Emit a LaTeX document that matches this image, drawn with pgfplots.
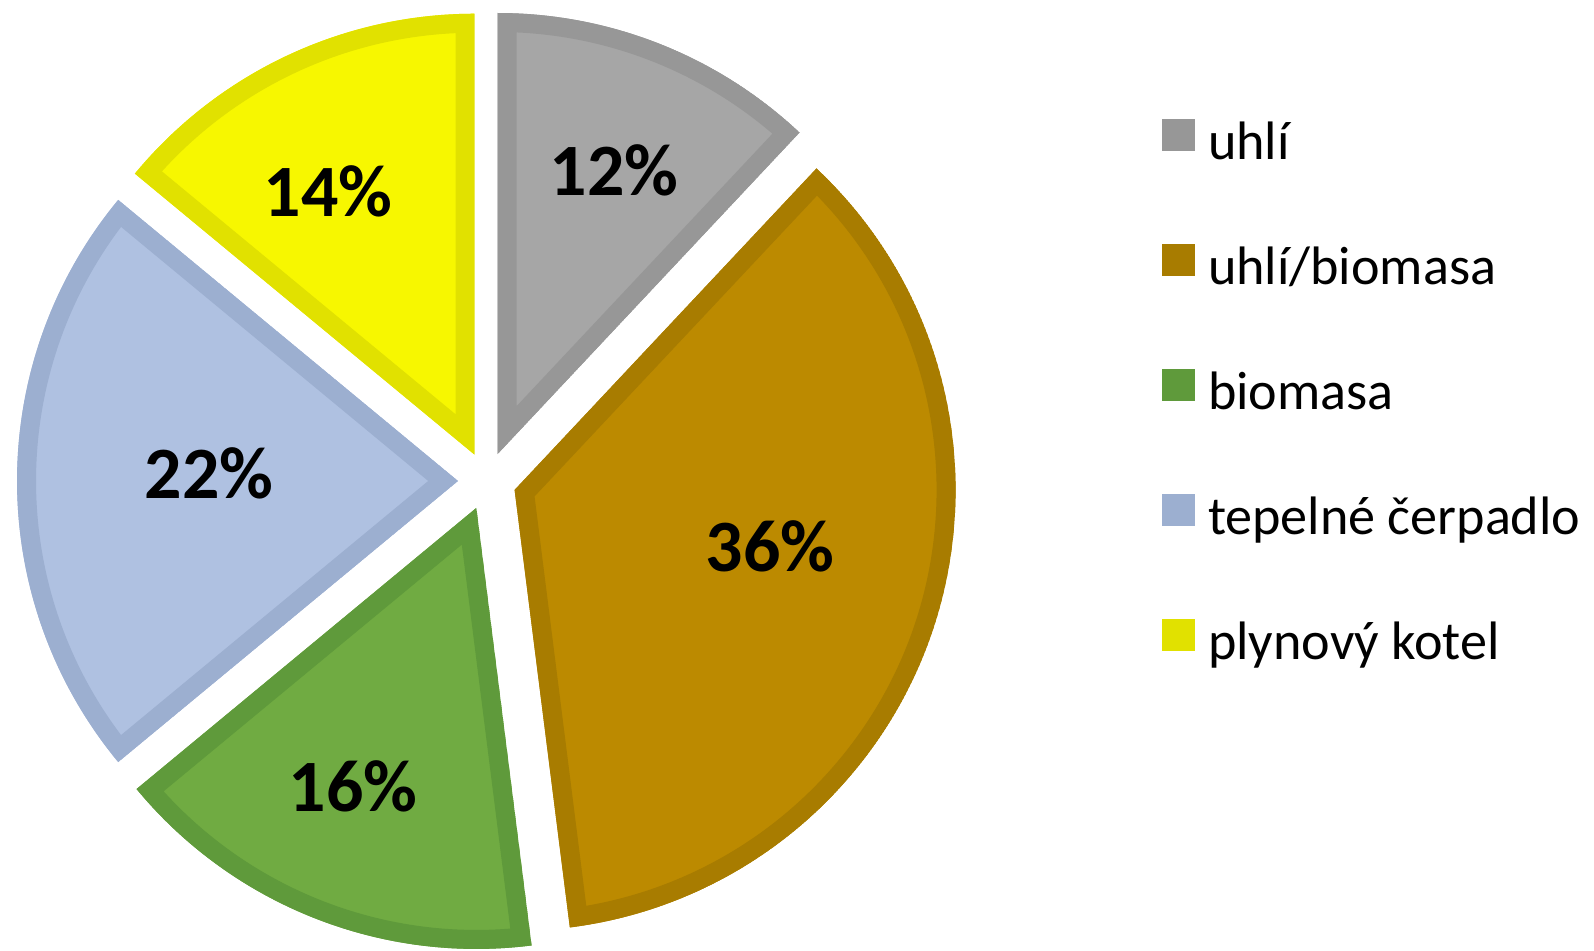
\documentclass[border=0pt]{standalone}
\usepackage{pgfplots}
\usepackage{pgfplotstable}
\pgfplotsset{compat=1.18}
\usepackage{fontspec}
\setmainfont{Carlito}
\definecolor{fill0}{HTML}{A6A6A6}\definecolor{bord0}{HTML}{979797}
\definecolor{fill1}{HTML}{BC8A00}\definecolor{bord1}{HTML}{A87C00}
\definecolor{fill2}{HTML}{70AB42}\definecolor{bord2}{HTML}{5F9A3B}
\definecolor{fill3}{HTML}{AFC1E1}\definecolor{bord3}{HTML}{9CAFD0}
\definecolor{fill4}{HTML}{F7F700}\definecolor{bord4}{HTML}{E1E100}
% share (%), label position (x, y from top, in 1/10 mm)
\pgfplotstableread{
value lx ly
12 614 170
36 770 546
16 353 786
22 209 473
14 328 191
}\datatable
\begin{document}
\begin{tikzpicture}
\begin{axis}[
  scale only axis, width=159.4mm, height=95.1mm,
  xmin=0, xmax=1594, ymin=0, ymax=951,
  hide axis, clip=false,
  legend style={draw=none, fill=none, inner sep=0pt, outer sep=0pt,
    at={(axis cs:1162,866)}, anchor=north west,
    font=\fontsize{15.4}{18}\selectfont,
    nodes={inner sep=0pt, text height=7.5mm, text depth=5mm},
    column sep=1.3mm, row sep=0pt},
  legend cell align=left,
  legend image code/.code={\fill[draw=none,#1] (0mm,-0.35mm) rectangle (3.3mm,2.85mm);},
]
\def\cum{0}
\pgfplotsforeachungrouped \i in {0,...,4}{%
  \pgfplotstablegetelem{\i}{value}\of\datatable \let\v\pgfplotsretval
  \pgfplotstablegetelem{\i}{lx}\of\datatable \let\lx\pgfplotsretval
  \pgfplotstablegetelem{\i}{ly}\of\datatable \let\ly\pgfplotsretval
  \pgfmathsetmacro\aone{90-3.6*\cum}%
  \pgfmathsetmacro\atwo{90-3.6*(\cum+\v)}%
  \pgfmathsetmacro\am{(\aone+\atwo)/2}%
  \pgfmathsetmacro\ax{487+29*cos(\am)}%
  \pgfmathsetmacro\ay{470+29*sin(\am)}%
  \pgfmathsetmacro\bx{\ax+441*cos(\aone)}%
  \pgfmathsetmacro\by{\ay+441*sin(\aone)}%
  \pgfmathsetmacro\lyy{951-\ly}%
  \edef\temp{%
    \noexpand\begin{scope}
    \noexpand\clip (axis cs:\ax,\ay) -- (axis cs:\bx,\by) arc[start angle=\aone, end angle=\atwo, radius=44.1mm] -- cycle;
    \noexpand\fill[fill=fill\i, draw=bord\i, line width=3.8mm, line join=miter] (axis cs:\ax,\ay) -- (axis cs:\bx,\by) arc[start angle=\aone, end angle=\atwo, radius=44.1mm] -- cycle;
    \noexpand\end{scope}
    \noexpand\node[font=\noexpand\fontsize{21}{25}\noexpand\selectfont\noexpand\bfseries] at (axis cs:\lx,\lyy) {\v\noexpand\%};
  }%
  \temp
  \pgfmathsetmacro\cum{\cum+\v}%
}
\addlegendimage{fill=bord0}\addlegendentry{uhlí}
\addlegendimage{fill=bord1}\addlegendentry{uhlí/biomasa}
\addlegendimage{fill=bord2}\addlegendentry{biomasa}
\addlegendimage{fill=bord3}\addlegendentry{tepelné čerpadlo}
\addlegendimage{fill=bord4}\addlegendentry{plynový kotel}
\end{axis}
\pgfresetboundingbox
\path[use as bounding box] (0,0) rectangle (159.4mm,95.1mm);
\end{tikzpicture}
\end{document}
